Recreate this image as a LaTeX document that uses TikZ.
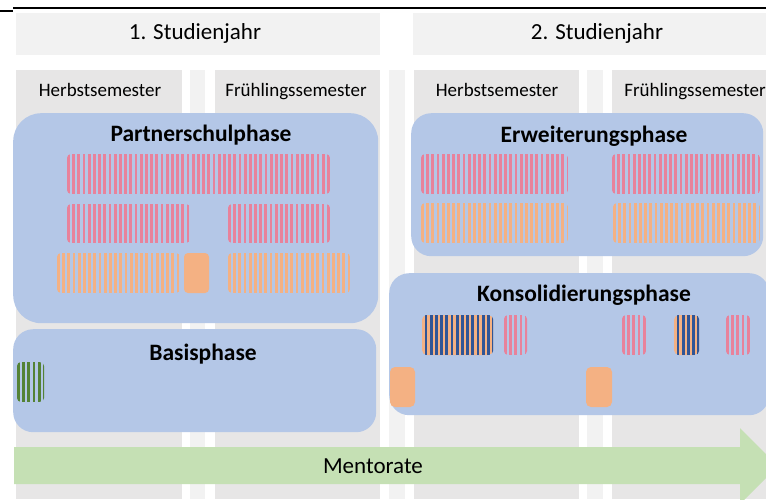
\documentclass[tikz,border=0pt]{standalone}
\usepackage{fontspec}
\setmainfont{Carlito}
\definecolor{colgray}{HTML}{E7E6E6}
\definecolor{stripgray}{HTML}{F2F2F2}
\definecolor{yeargray}{HTML}{F2F2F2}
\definecolor{phaseblue}{HTML}{B4C7E7}
\definecolor{pinkS}{RGB}{232,130,155}
\definecolor{orangeS}{HTML}{F4B183}
\definecolor{blueS}{HTML}{2F5597}
\definecolor{greenS}{HTML}{548235}
\definecolor{arrowgreen}{HTML}{C5E0B4}
\newcommand\stripes[6][0]{%
  \begin{scope}
    \clip[rounded corners=4pt] (#2,#3) rectangle (#4,#5);
    \foreach \i in {0,...,52} {\fill[#6] ({#2+#1+5.2*\i},#3) rectangle ({#2+#1+5.2*\i+2.7},#5);}
  \end{scope}}
\tikzset{
  yeartext/.style={font=\fontsize{23}{27}\selectfont, text=black, inner sep=0pt},
  semtext/.style={font=\fontsize{19}{23}\selectfont, text=black, inner sep=0pt, anchor=base},
  titletext/.style={font=\fontsize{23.5}{28}\selectfont\bfseries, text=black, inner sep=0pt},
  phasebox/.style={fill=phaseblue, draw=none, anchor=north west, inner sep=0pt},
}
\begin{document}
\begin{tikzpicture}[x=1pt,y=-1pt]
\clip (0,0) rectangle (766,499);
\fill[white] (0,0) rectangle (766,499);
% top rule
\draw[line width=1.5pt] (13,8) -- (766,8);
\draw[line width=1.5pt] (0,11) -- (13,11);
% semester columns and separating strips
\fill[colgray] (16,70) rectangle (182,499);
\fill[stripgray] (190,70) rectangle (205,499);
\fill[colgray] (215,70) rectangle (380,499);
\fill[stripgray] (389,70) rectangle (405,499);
\fill[colgray] (414,70) rectangle (579,499);
\fill[stripgray] (587,70) rectangle (603,499);
\fill[colgray] (612,70) rectangle (766,499);
% year headers
\fill[yeargray] (16,13) rectangle (380,55);
\fill[yeargray] (413,13) rectangle (766,55);
\node[yeartext] (y1) at (195,33) {1. Studienjahr};
\node[yeartext] (y2) at (597,33) {2. Studienjahr};
% semester labels
\node[semtext] (s1) at (100,96) {Herbstsemester};
\node[semtext] (s2) at (296,96) {Frühlingssemester};
\node[semtext] (s3) at (497,96) {Herbstsemester};
\node[semtext] (s4) at (695,96) {Frühlingssemester};
% phase boxes
\node[phasebox, minimum width=365pt, minimum height=210pt, rounded corners=28pt] (partner) at (13,113) {};
\node[phasebox, minimum width=363pt, minimum height=103pt, rounded corners=20pt] (basis) at (13,329) {};
\node[phasebox, minimum width=352pt, minimum height=143pt, rounded corners=20pt] (erw) at (411,113) {};
\node[phasebox, minimum width=380pt, minimum height=142pt, rounded corners=20pt] (kons) at (389,273) {};
\node[titletext] (tpartner) at (201,135) {Partnerschulphase};
\node[titletext] (tbasis) at (203,354) {Basisphase};
\node[titletext] (terw) at (594,136) {Erweiterungsphase};
\node[titletext] (tkons) at (584,295) {Konsolidierungsphase};
% Partnerschulphase contents
\stripes{67}{154}{330}{194}{pinkS}
\stripes{67}{204}{190}{243}{pinkS}
\stripes{228}{204}{330}{243}{pinkS}
\stripes{57}{253}{180}{293}{orangeS}
\fill[orangeS, rounded corners=4pt] (184,253) rectangle (209,293);
\stripes{228}{253}{350}{293}{orangeS}
% Erweiterungsphase contents
\stripes{421}{154}{568}{194}{pinkS}
\stripes{612}{154}{760}{194}{pinkS}
\stripes{421}{203}{568}{243}{orangeS}
\stripes{613}{203}{760}{243}{orangeS}
% Konsolidierungsphase contents
\fill[orangeS, rounded corners=5pt] (422,315) rectangle (493,355);
\stripes[2.6]{422}{315}{493}{355}{blueS}
\stripes{504}{315}{527}{355}{pinkS}
\stripes{622}{315}{646}{355}{pinkS}
\fill[orangeS, rounded corners=5pt] (674,315) rectangle (699,355);
\stripes[2.6]{674}{315}{699}{355}{blueS}
\stripes{726}{315}{750}{355}{pinkS}
\fill[orangeS, rounded corners=5pt] (390,367) rectangle (415,407);
\fill[orangeS, rounded corners=5pt] (586,367) rectangle (612,407);
% Basisphase contents
\stripes{17}{362}{44}{402}{greenS}
% Mentorate arrow
\fill[arrowgreen] (14,447) -- (740,447) -- (740,428) -- (778,466) -- (740,504) -- (740,484) -- (14,484) -- cycle;
\node[yeartext] (ment) at (373,466) {Mentorate};
\end{tikzpicture}
\end{document}
